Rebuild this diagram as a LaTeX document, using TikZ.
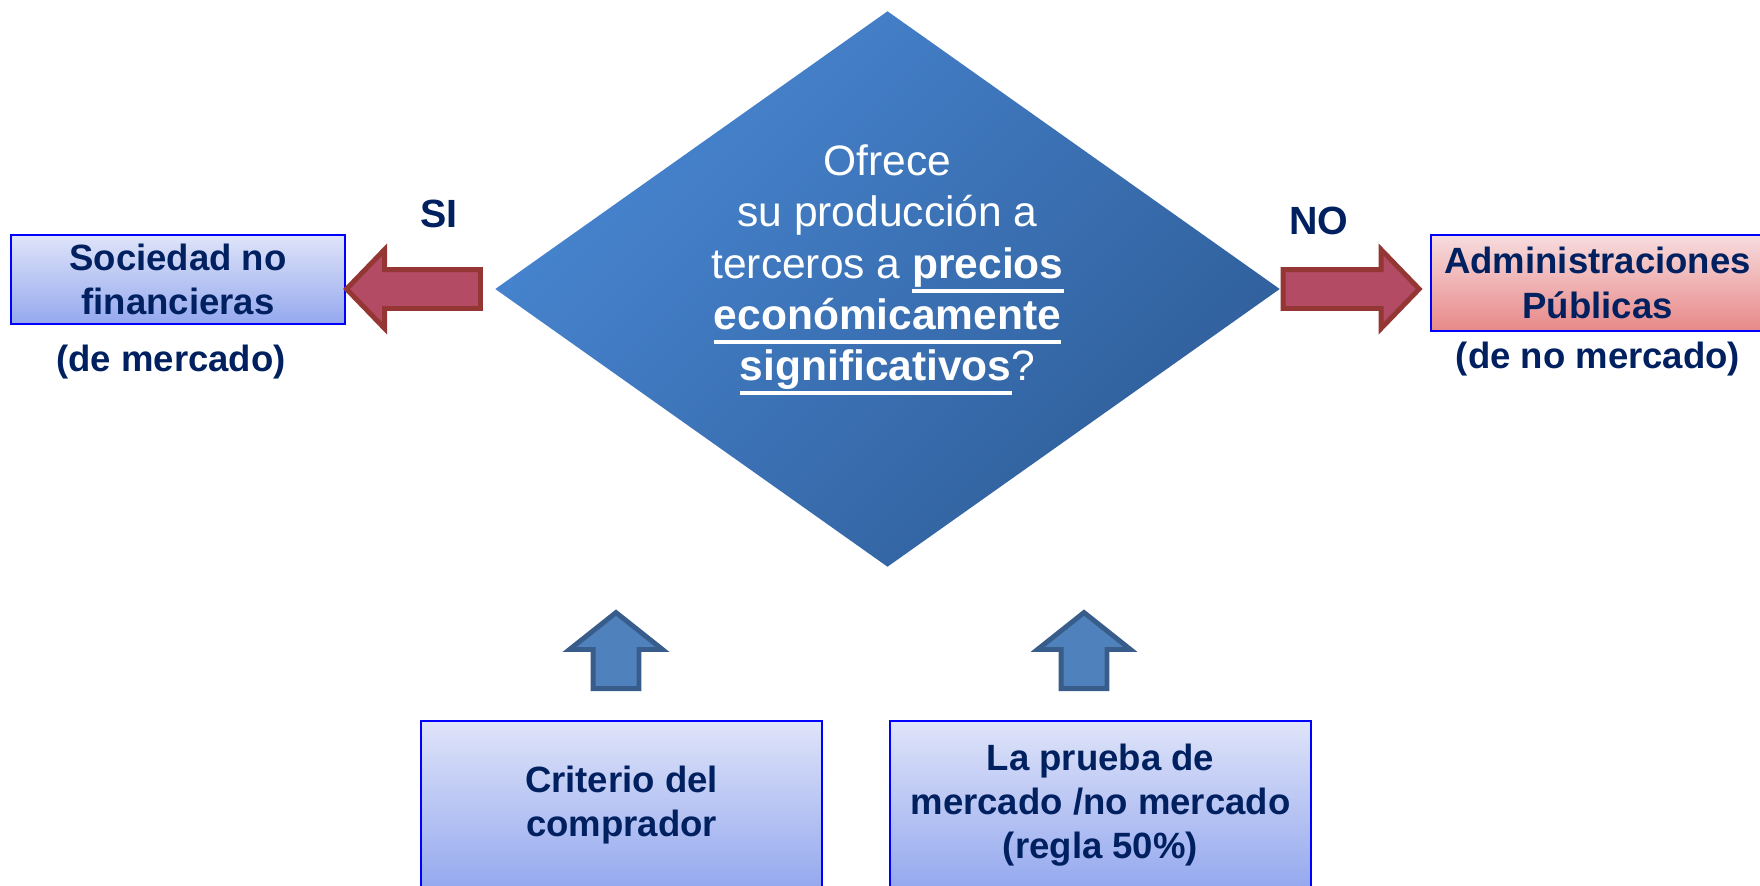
\documentclass[tikz,border=0pt]{standalone}
\usepackage{fontspec}
\setmainfont{Liberation Sans}
\usetikzlibrary{shapes.geometric,shapes.arrows}
\definecolor{navy}{RGB}{0,32,96}
\definecolor{boxblue}{RGB}{0,0,255}
\definecolor{boxtop}{RGB}{223,228,249}
\definecolor{boxbot}{RGB}{148,168,238}
\definecolor{pinktop}{RGB}{247,220,222}
\definecolor{pinkbot}{RGB}{232,136,136}
\definecolor{redfill}{RGB}{178,75,99}
\definecolor{redline}{RGB}{148,54,52}
\definecolor{bluefill}{RGB}{79,129,189}
\definecolor{blueline}{RGB}{56,93,138}
\definecolor{dtop}{RGB}{72,134,210}
\definecolor{dbot}{RGB}{47,94,153}
\newcommand{\subr}[1]{\sbox0{#1}\rlap{\lower0.3em\hbox{\vrule width\wd0 height 0.55pt depth 0.55pt}}\box0}

\begin{document}
\begin{tikzpicture}[
    caja/.style={draw=boxblue, line width=0.6pt, top color=boxtop, bottom color=boxbot,
      text=navy, align=center, inner sep=0pt,
      font=\fontsize{10.4}{12.6}\selectfont\bfseries},
    rotulo/.style={text=navy, font=\fontsize{10.4}{12.6}\selectfont\bfseries},
    flechared/.style={single arrow, draw=redline, fill=redfill, line width=1.4pt,
      inner sep=0.17cm, single arrow head extend=0.2cm, single arrow tip angle=92},
    flechablue/.style={single arrow, draw=blueline, fill=bluefill, line width=1.4pt,
      inner sep=0.205cm, single arrow head extend=0.235cm, single arrow tip angle=103,
      minimum height=0.76cm, shape border rotate=90, anchor=tail}
  ]
    \useasboundingbox (0,0) rectangle (17.6,-8.86);
    \node[diamond, minimum width=7.85cm, minimum height=5.56cm, inner sep=0pt,
      top color=dtop, bottom color=dbot, shading angle=45] (q) at (8.875,-2.89) {};
    \node[text=white, align=center, font=\fontsize{12.1}{14.6}\selectfont] (t) at (8.875,-2.70)
      {Ofrece\\su producción a\\terceros a \subr{\textbf{precios}}\\
       \subr{\textbf{económicamente}}\\\subr{\textbf{significativos}}?};
    \node[caja, minimum width=3.34cm, minimum height=0.89cm] (s) at (1.78,-2.795)
      {Sociedad no\\financieras};
    \node[rotulo] (sm) at (1.71,-3.62) {(de mercado)};
    \node[caja, top color=pinktop, bottom color=pinkbot, minimum width=3.33cm,
      minimum height=0.96cm] (p) at (15.975,-2.83) {Administraciones\\Públicas};
    \node[rotulo] (pm) at (15.98,-3.59) {(de no mercado)};
    \node[caja, minimum width=4.01cm, minimum height=1.68cm] (c) at (6.215,-8.05)
      {Criterio del\\comprador};
    \node[caja, minimum width=4.21cm, minimum height=1.68cm] (r) at (11.005,-8.05)
      {La prueba de\\mercado /no mercado\\(regla 50\%)};
    \node[rotulo, font=\fontsize{11.2}{13}\selectfont\bfseries] (si) at (4.39,-2.14) {SI};
    \node[rotulo, font=\fontsize{11.2}{13}\selectfont\bfseries] (no) at (13.19,-2.21) {NO};
    \node[flechared, minimum height=1.34cm, shape border rotate=180, anchor=tip] (fs)
      at ([xshift=-0.03cm]s.east |- q) {};
    \node[flechared, minimum height=1.36cm, anchor=tail] (fp) at (q.east) {};
    \node[flechablue] (fc) at (6.16,-6.91) {};
    \node[flechablue] (fr) at (10.84,-6.91) {};
  \end{tikzpicture}
\end{document}
